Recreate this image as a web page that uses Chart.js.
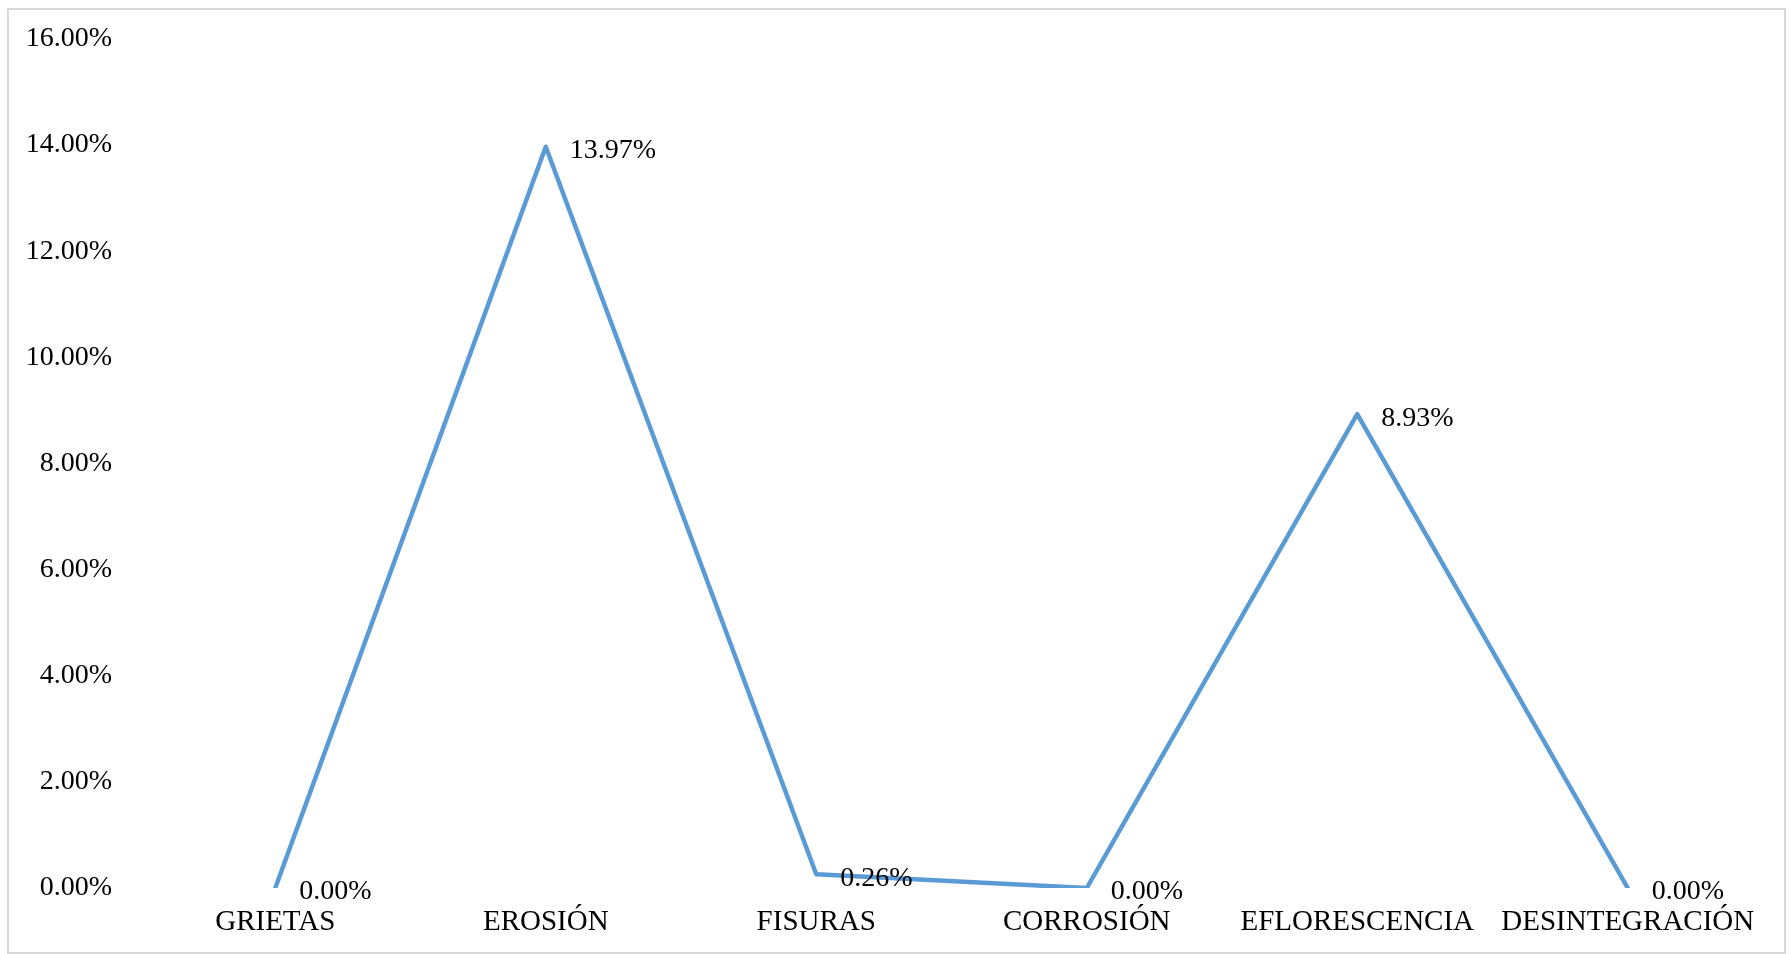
<!DOCTYPE html>
<html lang="es">
<head>
  <meta charset="UTF-8" />
  <title>Patologías</title>
  <script src="https://cdn.jsdelivr.net/npm/chart.js"></script>
  <style>
    html, body {
      margin: 0;
      padding: 0;
      background: #ffffff;
      overflow: hidden;
    }
    .frame {
      position: absolute;
      left: 7px;
      top: 8px;
      width: 1775px;
      height: 942px;
      border: 2px solid #d9d9d9;
    }
    #chart {
      position: absolute;
      left: 0;
      top: 0;
    }
  </style>
</head>
<body>
  <div class="frame"></div>
  <canvas id="chart" width="1791" height="954"></canvas>

  <script>
    const categories = ["GRIETAS", "EROSIÓN", "FISURAS", "CORROSIÓN", "EFLORESCENCIA", "DESINTEGRACIÓN"];
    const percentages = [0.00, 13.97, 0.26, 0.00, 8.93, 0.00];
    const yTicks = [0, 2, 4, 6, 8, 10, 12, 14, 16];

    const serif = "'Liberation Serif', 'Times New Roman', serif";

    // value labels to the right of each point, like Excel's "right" placement
    const valueLabels = {
      id: "valueLabels",
      afterDatasetsDraw(chart) {
        const ctx = chart.ctx;
        const meta = chart.getDatasetMeta(0);
        ctx.save();
        ctx.font = "28px " + serif;
        ctx.fillStyle = "#000000";
        ctx.textAlign = "left";
        ctx.textBaseline = "middle";
        meta.data.forEach((pt, i) => {
          ctx.fillText(percentages[i].toFixed(2) + "%", pt.x + 24, pt.y + 4);
        });
        ctx.restore();
      }
    };

    new Chart(document.getElementById("chart"), {
      type: "line",
      data: {
        labels: categories,
        datasets: [{
          data: percentages,
          borderColor: "#5b9bd5",
          borderWidth: 4.5,
          borderCapStyle: "round",
          borderJoinStyle: "round",
          pointRadius: 0,
          tension: 0,
          fill: false
        }]
      },
      options: {
        responsive: false,
        animation: false,
        layout: {
          padding: { left: 0, top: 39, right: 28, bottom: 18 }
        },
        plugins: {
          legend: { display: false },
          tooltip: { enabled: false }
        },
        scales: {
          x: {
            offset: true,
            grid: { display: false, drawTicks: false },
            border: { display: false },
            ticks: {
              color: "#000000",
              padding: 17,
              maxRotation: 0,
              autoSkip: false,
              font: { family: serif, size: 29 }
            },
            afterFit(scale) { scale.height = 48; }
          },
          y: {
            min: 0,
            max: 16,
            afterBuildTicks(scale) {
              scale.ticks = yTicks.map(v => ({ value: v }));
            },
            grid: { display: false, drawTicks: false },
            border: { display: false },
            ticks: {
              color: "#000000",
              padding: 28,
              font: { family: serif, size: 28 },
              callback: v => v.toFixed(2) + "%"
            },
            afterFit(scale) {
              scale.width = 140;
              // the tick padding would otherwise push the plot top down
              scale.paddingTop = 0;
              scale.paddingBottom = 0;
            }
          }
        }
      },
      plugins: [valueLabels]
    });
  </script>
</body>
</html>
